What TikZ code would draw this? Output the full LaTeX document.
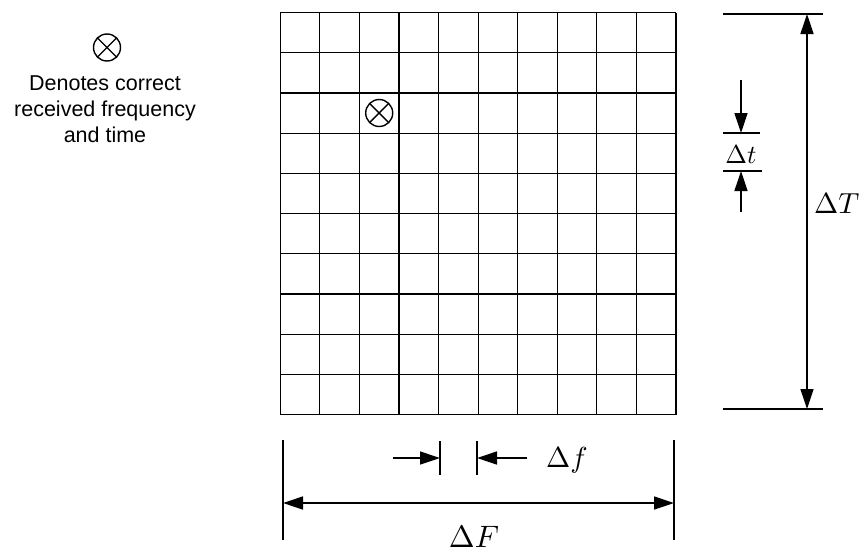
\documentclass[tikz,border=0pt]{standalone}
\usepackage{graphicx}
\usepackage{fontspec}
\newfontfamily\sansf{Liberation Sans}
\usetikzlibrary{arrows.meta}
\newcommand{\biglbl}[2]{\scalebox{#1}{$#2$}}
\begin{document}
\begin{tikzpicture}[x=1pt,y=-1pt,
  gridline/.style={line width=1.2pt},
  dimline/.style={line width=1.4pt},
  tip/.tip={Triangle[length=20pt,width=13pt]},
  onearrow/.style={line width=1.4pt,-tip},
  twoarrow/.style={line width=1.4pt,tip-tip},
  mathlbl/.style={inner sep=0pt},
  legendtxt/.style={font=\sansf\fontsize{21.5}{26}\selectfont,align=center,inner sep=0pt},
  otimesmark/.pic={
    \draw[line width=1.4pt] (0,0) circle (13.5pt);
    \draw[line width=1.4pt] (-9.3,-9.3) -- (9.3,9.3) (-9.3,9.3) -- (9.3,-9.3);
  }]
\useasboundingbox (0,0) rectangle (866,554);

% grid
\foreach \i in {0,...,10}{
  \draw[gridline] ({280.3+\i*39.57},12.5) -- ({280.3+\i*39.57},414.5);
  \draw[gridline] (280.3,{12.5+\i*40.2}) -- (676,{12.5+\i*40.2});
}
\pic at (379.2,113) {otimesmark};

% legend
\pic at (107,47.5) {otimesmark};
\node[legendtxt] (legend) at (105,109) {Denotes correct\\received frequency\\and time};

% Delta T
\coordinate (TtopL) at (723,14);
\coordinate (TtopR) at (823,14);
\coordinate (TbotL) at (723,409);
\coordinate (TbotR) at (823,409);
\coordinate (Ttop) at (807,14);
\coordinate (Tbot) at (807,409);
\draw[dimline] (TtopL) -- (TtopR);
\draw[dimline] (TbotL) -- (TbotR);
\draw[twoarrow] (Ttop) -- (Tbot);
\node[mathlbl,anchor=base west] (DT) at (814,213) {\biglbl{2.9}{\Delta T}};

% Delta t
\coordinate (tupL) at (723,133);
\coordinate (tupR) at (760,133);
\coordinate (tloL) at (723,171);
\coordinate (tloR) at (762,171);
\coordinate (tA0) at (741,80);
\coordinate (tA1) at (741,133);
\coordinate (tB0) at (741,212);
\coordinate (tB1) at (741,171);
\draw[dimline] (tupL) -- (tupR);
\draw[dimline] (tloL) -- (tloR);
\draw[onearrow] (tA0) -- (tA1);
\draw[onearrow] (tB0) -- (tB1);
\node[mathlbl,anchor=base] (dt) at (741,163) {\biglbl{2.6}{\Delta t}};

% Delta F
\coordinate (FL0) at (283,440);
\coordinate (FL1) at (283,540);
\coordinate (FR0) at (674,440);
\coordinate (FR1) at (674,540);
\coordinate (FA) at (283,503);
\coordinate (FB) at (674,503);
\draw[dimline] (FL0) -- (FL1);
\draw[dimline] (FR0) -- (FR1);
\draw[twoarrow] (FA) -- (FB);
\node[mathlbl,anchor=base] (DF) at (474,547) {\biglbl{3.1}{\Delta F}};

% Delta f
\coordinate (fL0) at (440,441);
\coordinate (fL1) at (440,475);
\coordinate (fR0) at (477,441);
\coordinate (fR1) at (477,475);
\coordinate (fA0) at (393,458);
\coordinate (fA1) at (440,458);
\coordinate (fB0) at (527,458);
\coordinate (fB1) at (477,458);
\draw[dimline] (fL0) -- (fL1);
\draw[dimline] (fR0) -- (fR1);
\draw[onearrow] (fA0) -- (fA1);
\draw[onearrow] (fB0) -- (fB1);
\node[mathlbl,anchor=base west] (df) at (546,467) {\biglbl{2.9}{\Delta f}};
\end{tikzpicture}
\end{document}
